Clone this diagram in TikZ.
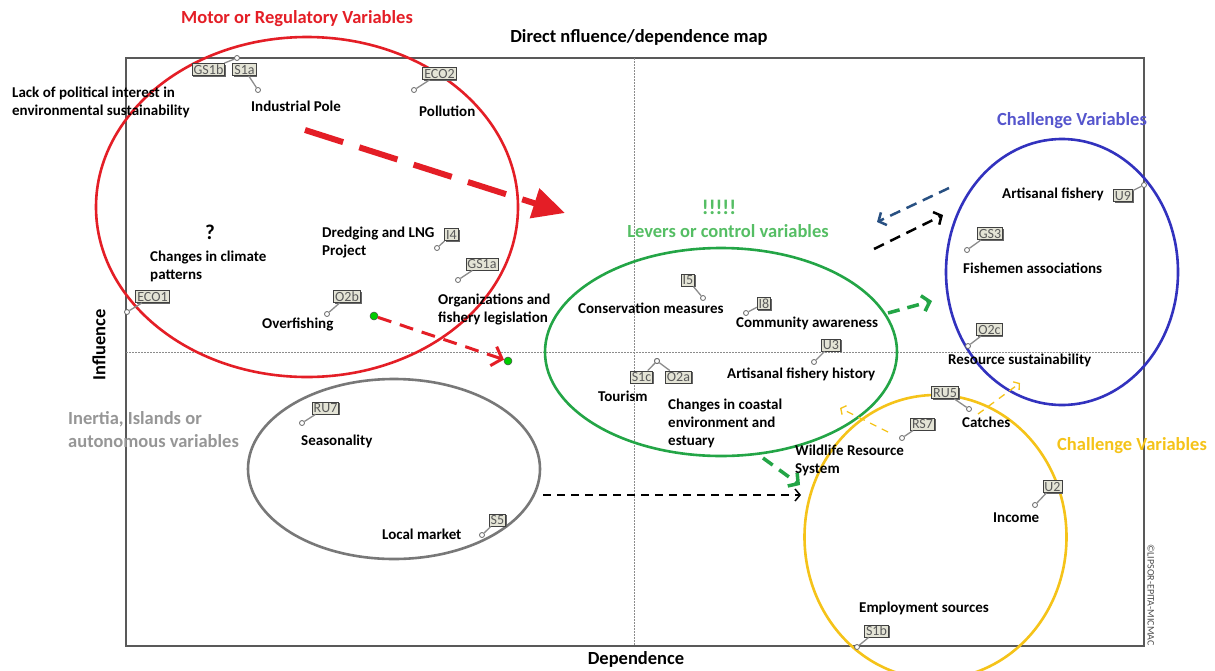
\documentclass[tikz,border=0pt]{standalone}
\usepackage{fontspec}
\setmainfont{Carlito}
\usetikzlibrary{shapes.geometric,arrows.meta,shadows}

\definecolor{motorred}{RGB}{228,30,38}
\definecolor{levergreen}{RGB}{35,165,70}
\definecolor{levertext}{RGB}{85,190,100}
\definecolor{chalblue}{RGB}{50,50,190}
\definecolor{chalbluetext}{RGB}{85,85,205}
\definecolor{chalyellow}{RGB}{245,195,25}
\definecolor{inertgray}{RGB}{120,120,120}
\definecolor{inerttext}{RGB}{150,150,150}
\definecolor{steelarrow}{RGB}{40,80,130}
\definecolor{tagfill}{RGB}{228,228,214}

\tikzset{
  lbl/.style={font=\bfseries\fontsize{15}{18}\selectfont, align=left, anchor=west, inner sep=0pt},
  grouplbl/.style={font=\bfseries\fontsize{18.5}{23}\selectfont, inner sep=0pt},
  axislbl/.style={font=\bfseries\fontsize{18.5}{20}\selectfont, inner sep=0pt},
  tag/.style={draw=black!75, fill=tagfill, line width=0.8pt, text=black!65,
    font=\fontsize{14}{14}\selectfont, inner xsep=1.5pt, inner ysep=1.3pt,
    text height=9.5pt, text depth=0pt,
    drop shadow={shadow xshift=1.3pt, shadow yshift=-1.3pt, fill=black!60, opacity=1}},
  pinmark/.style={circle, draw=black!60, fill=white, line width=0.8pt, minimum size=5pt, inner sep=0pt},
  pinline/.style={draw=black!45, line width=1.3pt},
  region/.style={ellipse, inner sep=0pt, line width=2.6pt},
  axisdot/.style={draw=black!45, line width=0.7pt, dash pattern=on 1.5pt off 1.5pt},
  greendot/.style={circle, fill=green!80!black, draw=black!70, line width=0.5pt, minimum size=8pt, inner sep=0pt},
}

\begin{document}
\begin{tikzpicture}[x=1pt, y=-1pt]
\useasboundingbox[fill=white] (0,0) rectangle (1215,670);

% plot frame and the two mean lines
\node[draw=black!65, line width=1.3pt, minimum width=1018pt, minimum height=588pt, inner sep=0pt] (frame) at (635,352) {};
\coordinate (vtop) at (634,58);
\coordinate (vbot) at (634,646);
\coordinate (hleft) at (126,352);
\coordinate (hright) at (1144,352);
\draw[axisdot] (vtop) -- (vbot);
\draw[axisdot] (hleft) -- (hright);

% titles of the map
\node[axislbl] (title) at (639,37) {Direct nfluence/dependence map};
\node[axislbl] (xlabel) at (636,659) {Dependence};
\node[axislbl, rotate=90] (ylabel) at (99,345) {Influence};
\node[font=\fontsize{10}{10}\selectfont, text=black!70, rotate=-90, inner sep=0pt] (copy) at (1151,595) {©LIPSOR-EPITA-MICMAC};

% variable groups
\node[region, draw=motorred, minimum width=422pt, minimum height=340pt] (motor) at (307,207) {};
\node[region, draw=levergreen, minimum width=352pt, minimum height=208pt] (levers) at (721,352) {};
\node[region, draw=chalblue, minimum width=232pt, minimum height=266pt] (chalA) at (1062,272) {};
\node[region, draw=chalyellow, minimum width=262pt, minimum height=284pt] (chalB) at (935.5,537) {};
\node[region, draw=inertgray, minimum width=292pt, minimum height=180pt] (inert) at (394,469) {};

\node[grouplbl, text=motorred] (motorlbl) at (297,19) {Motor or Regulatory Variables};
\node[grouplbl, text=chalbluetext] (chalAlbl) at (1072,121) {Challenge Variables};
\node[grouplbl, text=chalyellow] (chalBlbl) at (1132,446) {Challenge Variables};
\node[font=\bfseries\fontsize{21}{22}\selectfont, inner sep=0pt, text=levertext] (bang) at (719,207) {!!!!!};
\node[grouplbl, text=levertext] (leverlbl) at (728,231) {Levers or control variables};
\node[grouplbl, text=inerttext, align=left, anchor=west] (inertlbl) at (68,429.5) {Inertia, Islands or\\autonomous variables};

% variable tags with their points
\foreach \n/\t/\tx/\ty/\px/\py in {
  GS1b/GS1b/208.5/69.5/237/58,
  S1a/S1a/244.5/69.5/258/90,
  ECO2/ECO2/439.5/73.5/414/90,
  I4/I4/451.5/234.5/437/248,
  GS1a/GS1a/482/264/458/280,
  ECO1/ECO1/152.5/296.5/127/312,
  O2b/O2b/347/296.5/327/314,
  I5/I5/688/280/703/298,
  I8/I8/764/303.5/746/313,
  U3/U3/831/345/814/362,
  S1c/S1c/641.5/377/657/361,
  O2a/O2a/678.5/377/657/361,
  RS7/RS7/922.5/424/902/438,
  U9/U9/1123/195.5/1144/185,
  GS3/GS3/990/233.5/967/250,
  O2c/O2c/989.5/329.5/968/346,
  RU5/RU5/945/392.5/969/409,
  U2/U2/1052.5/486.5/1035/505,
  S1b/S1b/876.5/631/857/647,
  RU7/RU7/325.5/408/302/423,
  S5/S5/497.5/520/482/535}{
  \node[pinmark] (p\n) at (\px,\py) {};
  \node[tag] (t\n) at (\tx,\ty) {\t};
  \draw[pinline] (t\n) -- (p\n);
}

% variable names
\node[lbl] (lack) at (12,102) {Lack of political interest in\\environmental sustainability};
\node[lbl] (indpole) at (251,106) {Industrial Pole};
\node[lbl] (pollution) at (419,111) {Pollution};
\node[font=\bfseries\fontsize{21}{22}\selectfont, inner sep=0pt] (query) at (210,232) {?};
\node[lbl] (climate) at (150,266) {Changes in climate\\patterns};
\node[lbl] (dredging) at (322,242) {Dredging and LNG\\Project};
\node[lbl] (orgs) at (438,309) {Organizations and\\fishery legislation};
\node[lbl] (overfish) at (262,324) {Overfishing};
\node[lbl] (conserv) at (578,308) {Conservation measures};
\node[lbl] (commaw) at (736,323) {Community awareness};
\node[lbl] (arthist) at (727,374) {Artisanal fishery history};
\node[lbl] (tourism) at (598,396) {Tourism};
\node[lbl] (coastal) at (668,423) {Changes in coastal\\environment and\\estuary};
\node[lbl] (wildlife) at (795,460) {Wildlife Resource\\System};
\node[lbl] (artfish) at (1002,194) {Artisanal fishery};
\node[lbl] (fishassoc) at (963,268) {Fishemen associations};
\node[lbl] (ressust) at (948,360) {Resource sustainability};
\node[lbl] (catches) at (962,422) {Catches};
\node[lbl] (income) at (993,518) {Income};
\node[lbl] (employ) at (859,608) {Employment sources};
\node[lbl] (season) at (301,441) {Seasonality};
\node[lbl] (localmkt) at (382,534) {Local market};

% movement arrows
\coordinate (bigA) at (305,130);
\coordinate (bigB) at (565,213);
\draw[motorred, line width=6pt, dash pattern=on 40pt off 17pt,
  -{Triangle[length=32pt, width=30pt]}] (bigA) -- (bigB);

\node[greendot] (dotA) at (374,316) {};
\node[greendot] (dotB) at (508,361) {};
\draw[motorred, line width=3pt, dash pattern=on 14pt off 9pt,
  -{Straight Barb[length=9pt, width=20pt]}] (dotA) -- (dotB);

\coordinate (gA) at (888,313);
\coordinate (gB) at (932,301);
\draw[levergreen, line width=3.5pt, dash pattern=on 12pt off 8pt,
  -{Straight Barb[length=7pt, width=16pt]}] (gA) -- (gB);
\coordinate (gC) at (763,458);
\coordinate (gD) at (800,485);
\draw[levergreen, line width=3.5pt, dash pattern=on 12pt off 8pt,
  -{Straight Barb[length=7pt, width=16pt]}] (gC) -- (gD);

\coordinate (kA) at (874,249);
\coordinate (kB) at (943,215);
\draw[black, line width=2.5pt, dash pattern=on 11pt off 7pt,
  -{Straight Barb[length=6pt, width=14pt]}] (kA) -- (kB);
\coordinate (sA) at (949,188);
\coordinate (sB) at (877,222);
\draw[steelarrow, line width=2.5pt, dash pattern=on 11pt off 7pt,
  -{Straight Barb[length=6pt, width=14pt]}] (sA) -- (sB);

\coordinate (kC) at (543,495);
\coordinate (kD) at (801,495);
\draw[black, line width=1.5pt, dash pattern=on 8pt off 6pt,
  -{Straight Barb[length=5pt, width=12pt]}] (kC) -- (kD);

\coordinate (yA) at (888,432);
\coordinate (yB) at (840,408);
\draw[chalyellow, line width=1.3pt, dash pattern=on 7pt off 6pt,
  -{Straight Barb[length=4pt, width=10pt]}] (yA) -- (yB);
\coordinate (yC) at (978,414);
\coordinate (yD) at (1020,383);
\draw[chalyellow, line width=1.3pt, dash pattern=on 7pt off 6pt,
  -{Straight Barb[length=4pt, width=10pt]}] (yC) -- (yD);
\end{tikzpicture}
\end{document}
